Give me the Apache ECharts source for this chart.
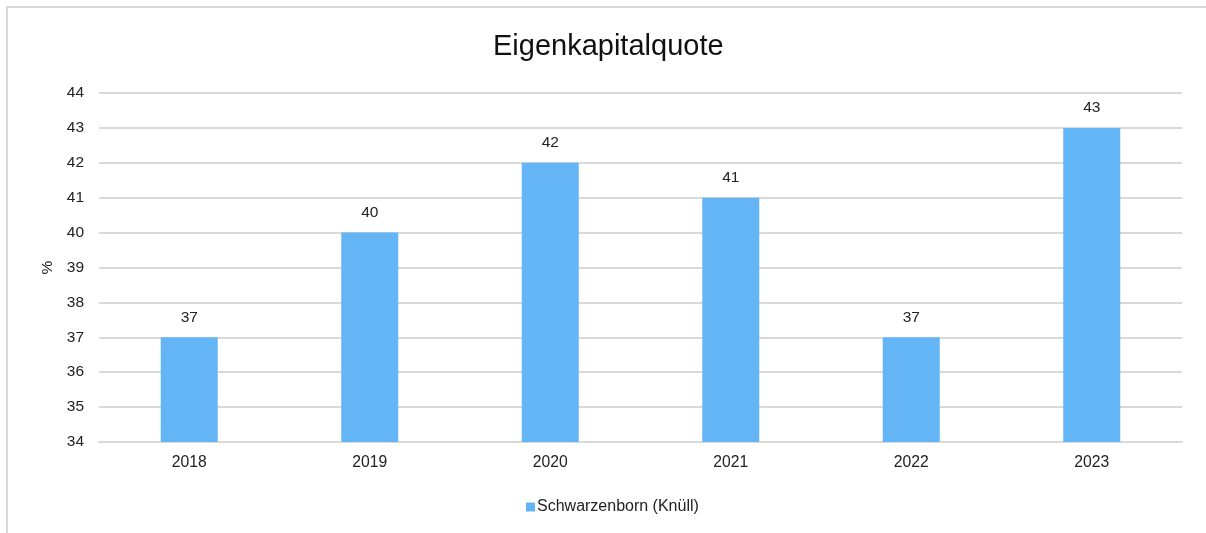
<!DOCTYPE html>
<html>
<head>
<meta charset="utf-8">
<script src="https://cdn.jsdelivr.net/npm/echarts@6/dist/echarts.min.js"></script>
<style>
  html, body { margin: 0; padding: 0; background: #fff; }
  #chart { width: 1206px; height: 533px; }
</style>
</head>
<body>
<div id="chart"></div>
<script>
var years = ['2018', '2019', '2020', '2021', '2022', '2023'];
var quote = [37, 40, 42, 41, 37, 43];
var seriesName = 'Schwarzenborn (Knüll)';

var font = '"Liberation Sans", Arial, sans-serif';

var myChart = echarts.init(document.getElementById('chart'));
myChart.setOption({
    animation: false,
    textStyle: { fontFamily: font },
    // light frame round the chart (only top and left edges are visible)
    graphic: [{
        type: 'rect',
        shape: { x: 7, y: 7, width: 1300, height: 600 },
        style: { fill: 'none', stroke: '#d9d9d9', lineWidth: 2 },
        silent: true,
        z: -1
    }],
    title: {
        text: 'Eigenkapitalquote',
        left: 488,
        top: 27,
        textStyle: { fontFamily: font, fontSize: 29, fontWeight: 'normal', color: '#111' }
    },
    legend: {
        bottom: 13,
        left: 521,
        icon: 'rect',
        itemWidth: 9,
        itemHeight: 9,
        itemGap: 10,
        textStyle: { fontFamily: font, fontSize: 16, color: '#222', padding: [0, 0, 0, -3] },
        data: [seriesName]
    },
    grid: {
        left: 99,
        right: 24,
        top: 93,
        bottom: 91,
        containLabel: false
    },
    xAxis: {
        type: 'category',
        data: years,
        axisTick: { show: false },
        axisLine: { lineStyle: { color: '#d9d9d9', width: 2 } },
        axisLabel: { color: '#222', fontSize: 15.7, margin: 13, fontFamily: font }
    },
    yAxis: {
        type: 'value',
        min: 34,
        max: 44,
        interval: 1,
        name: '%',
        nameLocation: 'middle',
        nameGap: 41,
        nameRotate: 90,
        nameTextStyle: { color: '#222', fontSize: 15.5, fontFamily: font },
        axisLine: { show: false },
        axisTick: { show: false },
        axisLabel: { color: '#222', fontSize: 15.5, margin: 15, fontFamily: font },
        splitLine: { lineStyle: { color: '#d9d9d9', width: 2 } }
    },
    series: [{
        name: seriesName,
        type: 'bar',
        data: quote,
        barWidth: 57,
        itemStyle: { color: '#64b5f6' },
        label: {
            show: true,
            position: 'top',
            distance: 12,
            color: '#222',
            fontSize: 15.5,
            fontFamily: font
        }
    }]
});
</script>
</body>
</html>
